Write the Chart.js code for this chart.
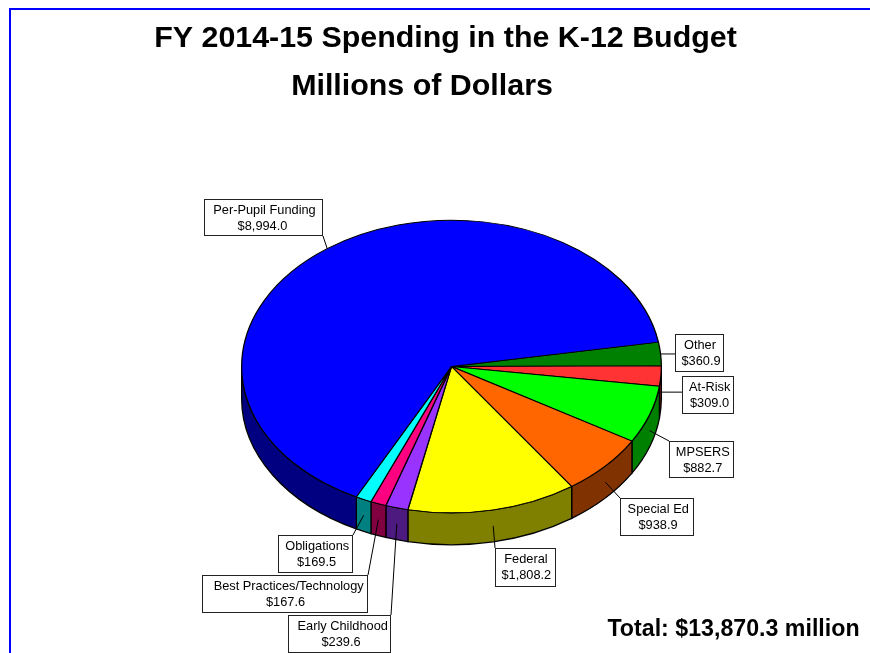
<!DOCTYPE html>
<html><head><meta charset="utf-8">
<style>html,body{margin:0;padding:0;background:#fff;overflow:hidden}canvas{display:block}</style>
<script src="https://cdn.jsdelivr.net/npm/chart.js@4"></script>
</head><body><canvas id="c" width="870" height="653"></canvas>
<script>
const categories = ['Other','At-Risk','MPSERS','Special Ed','Federal','Early Childhood','Best Practices/Technology','Obligations','Per-Pupil Funding'];
const values = [360.9,309.0,882.7,938.9,1808.2,239.6,167.6,169.5,8994.0];
const topColors = ['#008000','#FF3333','#00FF00','#FF6600','#FFFF00','#9933FF','#FF0080','#00FFFF','#0000FF'];
const wallColors = ['#004000','#801A1A','#008000','#803300','#808000','#4D1A80','#800040','#008080','#000080'];
const titleLines = ['FY 2014-15 Spending in the K-12 Budget','Millions of Dollars'];
const totalLabel = 'Total: $13,870.3 million';
// label boxes: left, top, right, bottom (one per category)
const labelBoxes = [[675,334,724,372],[682,376,734,414],[669,441,734,478],[620,498,694,536],[495,548,556,587],[288,615,391,653],[202,575,368,613],[278,535,353,573],[204,199,323,236]];
const nameShift = [0.5,1.7,1.3,1.2,0.5,3.2,3.7,1.7,1];
const valueShift = [1.5,1.5,1.2,1,0.8,1.5,0.5,1,-1];
const SQUASH = 0.697, DEPTH = 32;
const fmt = v => '$' + v.toLocaleString('en-US',{minimumFractionDigits:1,maximumFractionDigits:1});

function boxAttach(b, x, y){
  const px = Math.max(b[0], Math.min(b[2], x));
  const py = Math.max(b[1], Math.min(b[3], y));
  return [px, py];
}
const pie3d = {
  id:'pie3d',
  beforeDraw(chart){
    const c = chart.ctx;
    c.save();
    c.fillStyle='#fff'; c.fillRect(0,0,870,653);
    c.fillStyle='#0000FF';
    c.fillRect(9,8,861,2);
    c.fillRect(9,8,2,645);
    c.restore();
  },
  beforeDatasetsDraw(chart){
    const c = chart.ctx, arcs = chart.getDatasetMeta(0).data;
    c.save();
    c.strokeStyle='#000'; c.lineWidth=1.3;
    arcs.forEach((el,i)=>{
      const r = el.outerRadius, ry = r*SQUASH;
      for(const k of [-1,0,1]){
        const a = Math.max(el.startAngle, 2*Math.PI*k), b = Math.min(el.endAngle, Math.PI+2*Math.PI*k);
        if(b<=a) continue;
        c.beginPath();
        c.ellipse(el.x,el.y+DEPTH,r,ry,0,a,b);
        c.ellipse(el.x,el.y,r,ry,0,b,a,true);
        c.closePath();
        c.fillStyle=wallColors[i]; c.fill(); c.stroke();
      }
    });
    c.restore();
    const el0 = arcs[0];
    c.save();
    c.translate(el0.x,el0.y); c.scale(1,SQUASH); c.translate(-el0.x,-el0.y);
  },
  afterDatasetsDraw(chart){
    const c = chart.ctx, arcs = chart.getDatasetMeta(0).data;
    c.restore();
    c.save();
    c.textAlign='center'; c.textBaseline='alphabetic';
    arcs.forEach((el,i)=>{
      const mid=(el.startAngle+el.endAngle)/2, r=el.outerRadius;
      const s=Math.sin(mid);
      const ax=el.x+r*Math.cos(mid), ay=el.y+r*SQUASH*s+(s>0?DEPTH/2:0);
      const b=labelBoxes[i], p=boxAttach(b,ax,ay);
      c.strokeStyle='#000'; c.lineWidth=1;
      c.beginPath(); c.moveTo(ax,ay); c.lineTo(p[0],p[1]); c.stroke();
      c.fillStyle='#fff'; c.fillRect(b[0],b[1],b[2]-b[0],b[3]-b[1]);
      c.strokeStyle='#222';
      c.strokeRect(b[0]+.5,b[1]+.5,b[2]-b[0]-1,b[3]-b[1]-1);
      c.fillStyle='#000'; c.font='12.8px "Liberation Sans", Arial, sans-serif';
      const cx=(b[0]+b[2])/2;
      c.fillText(categories[i],cx+nameShift[i],b[1]+14.5);
      c.fillText(fmt(values[i]),cx+valueShift[i],b[1]+31);
    });
    c.fillStyle='#000';
    c.font='bold 30.4px "Liberation Sans", Arial, sans-serif';
    c.fillText(titleLines[0],445.5,47);
    c.fillText(titleLines[1],422,95);
    c.font='bold 23.2px "Liberation Sans", Arial, sans-serif';
    c.fillText(totalLabel,733.5,636);
    c.restore();
  }
};
new Chart(document.getElementById('c'),{
  type:'pie',
  data:{labels:categories,datasets:[{data:values,backgroundColor:topColors,borderColor:'#000',borderWidth:1.3}]},
  options:{
    responsive:false,animation:false,rotation:80.4,
    layout:{padding:{left:241,right:208,top:156,bottom:76}},
    plugins:{legend:{display:false},tooltip:{enabled:false},title:{display:false}}
  },
  plugins:[pie3d]
});
</script></body></html>
